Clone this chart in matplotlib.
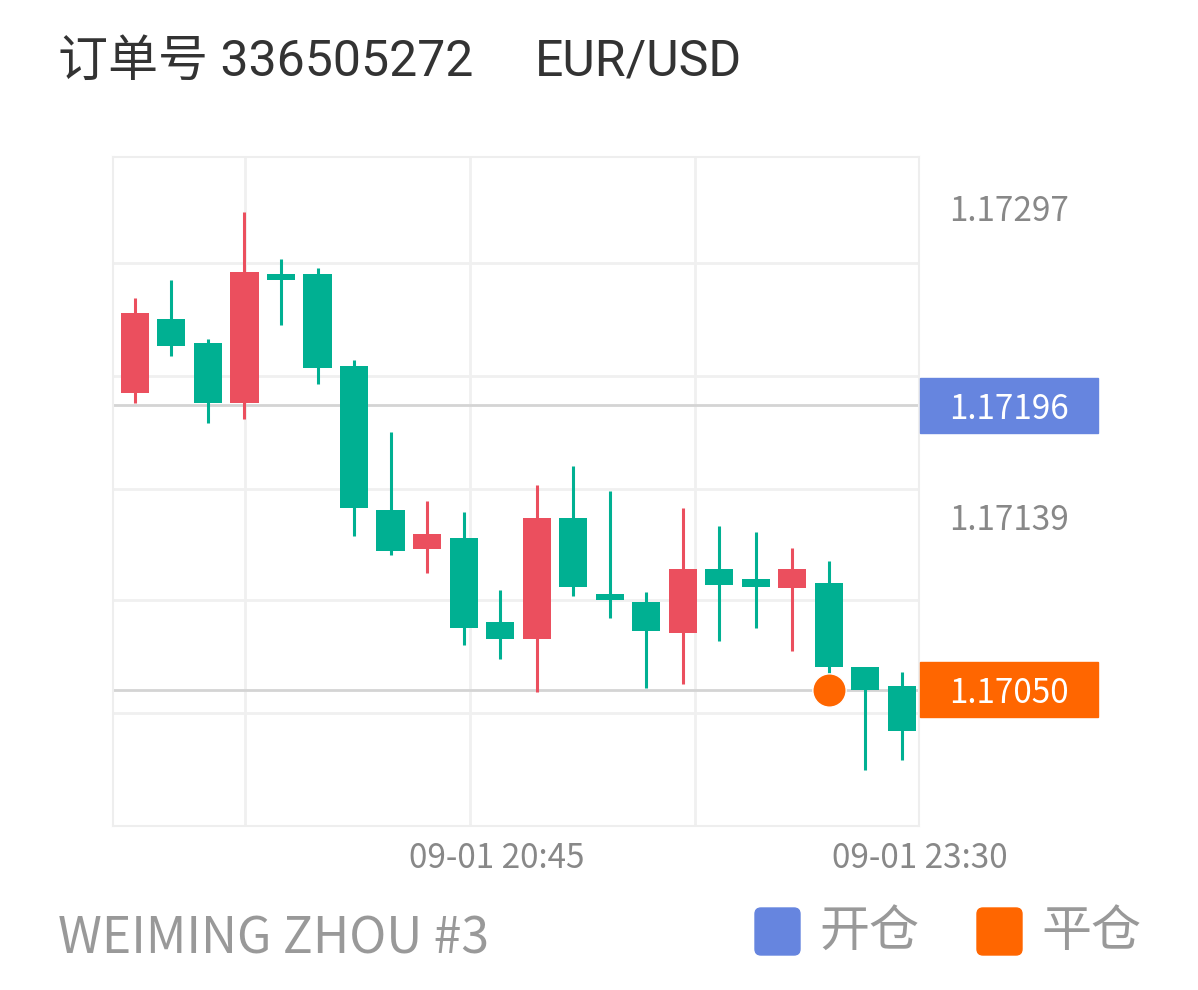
import matplotlib.pyplot as plt
from matplotlib.patches import Rectangle, FancyBboxPatch

plt.rcParams['font.family'] = ['Noto Sans CJK SC', 'DejaVu Sans']

# candles left to right, first one (-1) is cut by the left edge
idx = list(range(-1, 22))
opens = [1.17192, 1.17202, 1.17240, 1.17228, 1.17197, 1.17263, 1.17263, 1.17216,
         1.17142, 1.17122, 1.17128, 1.17085, 1.17076, 1.17138, 1.17099, 1.17095,
         1.17079, 1.17112, 1.17107, 1.17102, 1.17105, 1.17062, 1.17052]
closes = [1.17210, 1.17243, 1.17226, 1.17197, 1.17264, 1.17260, 1.17215, 1.17143,
          1.17121, 1.17130, 1.17082, 1.17076, 1.17138, 1.17103, 1.17096, 1.17080,
          1.17112, 1.17104, 1.17103, 1.17112, 1.17062, 1.17050, 1.17029]
highs = [1.17210, 1.17251, 1.17260, 1.17230, 1.17295, 1.17271, 1.17266, 1.17219,
         1.17182, 1.17147, 1.17141, 1.17101, 1.17155, 1.17165, 1.17152, 1.17100,
         1.17143, 1.17134, 1.17131, 1.17123, 1.17116, 1.17062, 1.17059]
lows = [1.17188, 1.17197, 1.17221, 1.17187, 1.17189, 1.17237, 1.17207, 1.17129,
        1.17119, 1.17110, 1.17073, 1.17066, 1.17049, 1.17098, 1.17087, 1.17051,
        1.17053, 1.17075, 1.17082, 1.17070, 1.17055, 1.17009, 1.17014]

open_price = 1.17196
close_price = 1.17050
close_idx = 19
price_labels = [1.17297, 1.17139]
price_grid = [1.17269, 1.17211, 1.17153, 1.17096, 1.17038]
time_grid = [3.01, 9.17, 15.33]
time_pos = [9.91, 21.49]
time_labels = ["09-01 20:45", "09-01 23:30"]

title = "订单号 336505272"
symbol = "EUR/USD"
account = "WEIMING ZHOU #3"
legend_names = ["开仓", "平仓"]

UP = '#EB4F5E'
DOWN = '#00B092'
BLUE = '#6685DF'
ORANGE = '#FF6600'

fig = plt.figure(figsize=(11.98, 9.90), dpi=100)
ax = fig.add_axes([113 / 1198, 1 - 826 / 990, 806 / 1198, 669 / 990])
ax.set_xlim(-0.60, 21.47)
ax.set_ylim(1.169803, 1.173231)
ax.set_xticks([])
ax.set_yticks([])
for s in ax.spines.values():
    s.set_color('#eeeeee')
    s.set_linewidth(1.5)

for g in price_grid:
    ax.axhline(g, color='#f0f0f0', lw=2, zorder=0)
for g in time_grid:
    ax.axvline(g, color='#f0f0f0', lw=2, zorder=0)

ax.axhline(open_price, color='#d4d4d4', lw=2, zorder=1)
ax.axhline(close_price, color='#d4d4d4', lw=2, zorder=1)

for i, o, c, h, l in zip(idx, opens, closes, highs, lows):
    col = UP if c >= o else DOWN
    ax.vlines(i, l, h, color=col, lw=2.2, zorder=2)
    ax.bar(i, abs(c - o), bottom=min(o, c), width=0.77, color=col, zorder=3)

ax.plot(close_idx, close_price, 'o', ms=24, color=ORANGE, mec='white', mew=1, zorder=5)

# price labels on the right
yt = ax.get_yaxis_transform()
for p in price_labels:
    ax.text(1.1117, p, f"{p:.5f}", transform=yt, ha='center', va='center_baseline',
            fontsize=24, color='#888888', clip_on=False)
box_h = 55 / 195200
for p, col in [(open_price, BLUE), (close_price, ORANGE)]:
    ax.add_patch(Rectangle((1.0012, p - box_h / 2), 0.221, box_h, transform=yt,
                           color=col, clip_on=False, zorder=4))
    ax.text(1.1117, p, f"{p:.5f}", transform=yt, ha='center', va='center_baseline',
            fontsize=24, color='white', clip_on=False, zorder=6)

xt = ax.get_xaxis_transform()
for x, lab in zip(time_pos, time_labels):
    ax.text(x, -0.043, lab, transform=xt, ha='center', va='center_baseline',
            fontsize=24, color='#888888', clip_on=False)

# overlay in pixel coordinates for title and legend
ov = fig.add_axes([0, 0, 1, 1])
ov.set_xlim(0, 1198)
ov.set_ylim(990, 0)
ov.axis('off')
ov.text(58, 62, title, ha='left', va='center', fontsize=36, color='#333333',
        family=['Roboto', 'Noto Sans CJK SC'])
ov.text(535, 62, symbol, ha='left', va='center', fontsize=36, color='#333333',
        family=['Roboto', 'Noto Sans CJK SC'])
ov.text(58, 934, account, ha='left', va='center_baseline', fontsize=36, color='#999999')

for x0, col, name in zip([755, 977], [BLUE, ORANGE], legend_names):
    ov.add_patch(FancyBboxPatch((x0, 908), 45, 47, boxstyle='round,pad=0,rounding_size=6',
                                color=col))
    ov.text(x0 + 64, 932, name, ha='left', va='center', fontsize=36, color='#999999')

fig.savefig('out.png', dpi=100)
